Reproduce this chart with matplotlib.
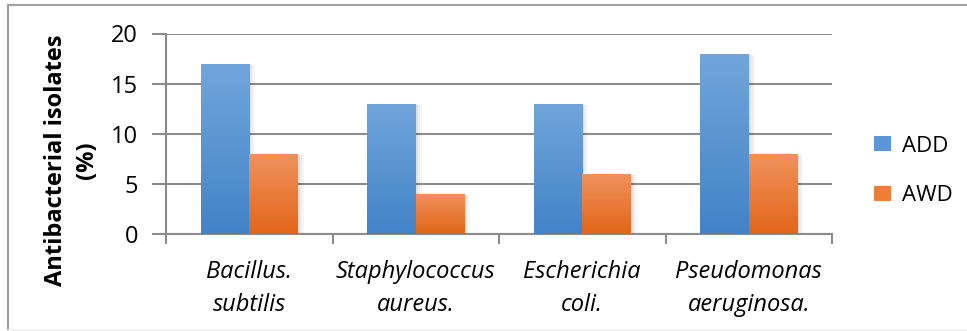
import numpy as np
import matplotlib
matplotlib.use("Agg")
import matplotlib.pyplot as plt
from matplotlib.patches import Rectangle, Patch
from matplotlib.lines import Line2D

categories = ["Bacillus.\nsubtilis", "Staphylococcus\naureus.", "Escherichia\ncoli.", "Pseudomonas\naeruginosa."]
add_vals = [17, 13, 13, 18]
awd_vals = [8, 4, 6, 8]
series_names = ["ADD", "AWD"]
y_ticks = [0, 5, 10, 15, 20]

plt.rcParams['font.family'] = ['Open Sans', 'DejaVu Sans']

W, H = 967, 331
fig = plt.figure(figsize=(W/100, H/100), dpi=100)
ax = fig.add_axes([166/W, 1-234/H, (832-166)/W, (234-33.5)/H])

# chart border: top and left grey, bottom faint, no right edge
ft = fig.transFigure
fig.lines.append(Line2D([8/W, 1], [1-5/H, 1-5/H], transform=ft, color='#a0a0a0', lw=1.5))
fig.lines.append(Line2D([8/W, 8/W], [1-5/H, 1-330/H], transform=ft, color='#a0a0a0', lw=1.5))
fig.lines.append(Line2D([8/W, 1], [1-330/H, 1-330/H], transform=ft, color='#ececec', lw=1.2))

x = np.arange(len(categories))
w = 0.292
grad = {
    "ADD": ('#70a6db', '#4383c7'),
    "AWD": ('#f0925c', '#e2661a'),
}

def gradient_bars(bars, top, bottom):
    c1 = np.array(matplotlib.colors.to_rgb(top))
    c2 = np.array(matplotlib.colors.to_rgb(bottom))
    t = np.linspace(0, 1, 64)[:, None]
    img = (c1 * (1 - t) + c2 * t)[:, None, :]
    for b in bars:
        x0, y0 = b.get_x(), b.get_y()
        bw, bh = b.get_width(), b.get_height()
        # soft shadow
        for k, a in enumerate([0.05, 0.04, 0.03]):
            d = 0.006 * (k + 1)
            ax.add_patch(Rectangle((x0 + d, y0), bw + d, bh - 0.05 * (k + 1), color='k', alpha=a,
                                   lw=0, zorder=2))
        im = ax.imshow(img, extent=[x0, x0 + bw, y0, y0 + bh], aspect='auto', zorder=3,
                       interpolation='bilinear')
        im.set_clip_path(b)

b1 = ax.bar(x - w/2, add_vals, w, color='none', lw=0, zorder=3)
b2 = ax.bar(x + w/2, awd_vals, w, color='none', lw=0, zorder=3)
gradient_bars(b1, *grad["ADD"])
gradient_bars(b2, *grad["AWD"])

ax.set_xlim(-0.5, len(categories) - 0.5)
ax.set_ylim(0, 20)
ax.set_yticks(y_ticks)
ax.set_yticklabels([str(v) for v in y_ticks], fontsize=17)
ax.yaxis.grid(True, color='#8c8c8c', lw=1.5, zorder=0)
ax.set_axisbelow(True)

ax.set_xticks(x)
ax.set_xticklabels(categories, fontsize=17, style='italic', linespacing=1.5)
ax.set_xticks(np.arange(-0.5, len(categories)), minor=True)
ax.tick_params(axis='x', which='major', length=0, pad=19)
ax.tick_params(axis='x', which='minor', length=7, width=1.5, color='#8c8c8c')
ax.tick_params(axis='y', length=10, width=1.5, color='#8c8c8c', pad=10)

for s in ['top', 'right']:
    ax.spines[s].set_visible(False)
for s in ['left', 'bottom']:
    ax.spines[s].set_color('#8c8c8c')
    ax.spines[s].set_linewidth(1.5)

ax.set_ylabel("Antibacterial isolates\n(%)", fontsize=17, fontweight='bold', linespacing=1.4)
ax.yaxis.set_label_coords(-0.100, (234-160)/200.5)

handles = [Patch(facecolor='#5b96d6', label=series_names[0]),
           Patch(facecolor='#ee7d35', label=series_names[1])]
ax.legend(handles=handles, loc='center left', bbox_to_anchor=(854/W, 1-171/H),
          bbox_transform=ft, frameon=False, fontsize=16,
          handlelength=0.77, handleheight=0.68, handletextpad=0.5, labelspacing=1.3)

fig.savefig("out.png", dpi=100)
